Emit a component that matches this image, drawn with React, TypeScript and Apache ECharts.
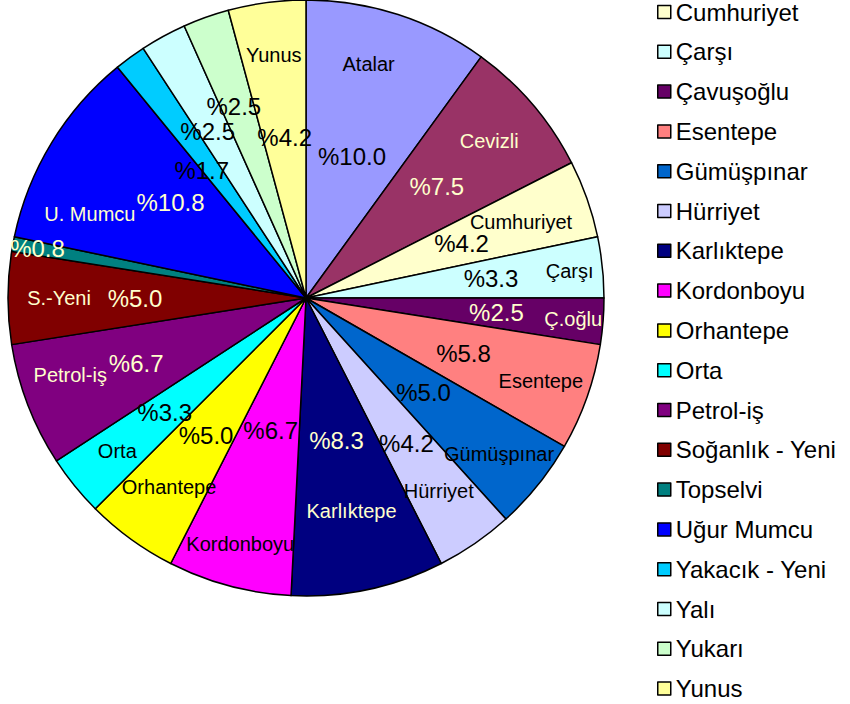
import React, { useEffect, useRef } from "react";
import * as echarts from "echarts";

// ---- data ----
const names = [
  "Atalar", "Cevizli", "Cumhuriyet", "Çarşı", "Çavuşoğlu", "Esentepe", "Gümüşpınar",
  "Hürriyet", "Karlıktepe", "Kordonboyu", "Orhantepe", "Orta", "Petrol-iş",
  "Soğanlık - Yeni", "Topselvi", "Uğur Mumcu", "Yakacık - Yeni", "Yalı", "Yukarı", "Yunus",
];
const sliceLabels = [
  "Atalar", "Cevizli", "Cumhuriyet", "Çarşı", "Ç.oğlu", "Esentepe", "Gümüşpınar",
  "Hürriyet", "Karlıktepe", "Kordonboyu", "Orhantepe", "Orta", "Petrol-iş",
  "S.-Yeni", "", "U. Mumcu", "", "", "", "Yunus",
];
const shares = [10.0, 7.5, 4.2, 3.3, 2.5, 5.8, 5.0, 4.2, 8.3, 6.7, 5.0, 3.3, 6.7, 5.0, 0.8, 10.8, 1.7, 2.5, 2.5, 4.2];
const legendNames = names.slice(2);
const outerPercentNames = ["Topselvi"];

// ---- styles ----
const colors = [
  "#9999FF", "#993366", "#FFFFCC", "#CCFFFF", "#660066", "#FF8080", "#0066CC",
  "#CCCCFF", "#000080", "#FF00FF", "#FFFF00", "#00FFFF", "#800080",
  "#800000", "#008080", "#0000FF", "#00CCFF", "#CCFFFF", "#CCFFCC", "#FFFF99",
];
const darkSlices = ["Cevizli", "Çavuşoğlu", "Karlıktepe", "Petrol-iş", "Soğanlık - Yeni", "Topselvi", "Uğur Mumcu"];
// radial distance (px) and angular shift (deg) of the labels, per slice
const pctLabelRadius = [149, 172, 165, 186, 191, 167, 151, 177, 146, 137, 170, 182, 182, 171, 273, 166, 165, 193, 205, 162];
const pctLabelShift = [0, 0, 0, 0, 0, 0, 0, 0, 0, 0, 0, 0, 0, 0, 0, 4, -3, -2, -1, 0];
const nameLabelRadius = [242, 241, 228, 265, 268, 249, 248, 234, 218, 255, 233, 243, 248, 247, 273, 232, 245, 245, 245, 245];
const nameLabelShift = [-3, 0, 0, 0, 0, 0, 0, 0, 0, 0, 0, 0, 3, 0, 0, -10, 0, 0, 0, 0];
const CREAM = "#FFFFCC";
const FONT = "'Liberation Sans', Arial, sans-serif";

export default function App() {
  const ref = useRef<HTMLDivElement>(null);
  useEffect(() => {
    document.body.style.margin = "0";
    const chart = echarts.init(ref.current!, null, { renderer: "svg" });
    const cx = 306;
    const cy = 298;
    const R = 298;
    const pct = (v: number) => "%" + v.toFixed(1);
    const txt = (n: string) => (darkSlices.includes(n) ? CREAM : "#000");
    const transparent = { color: "rgba(0,0,0,0)", borderWidth: 0 };

    const mainData = names.map((n, i) => ({
      name: n,
      value: shares[i],
      itemStyle: { color: colors[i] },
    }));
    const pctData = names.map((n, i) => ({
      name: n,
      value: shares[i],
      itemStyle: transparent,
      label: {
        show: !outerPercentNames.includes(n),
        formatter: pct(shares[i]),
        color: txt(n),
      },
    }));
    const nameData = names.map((n, i) => {
      const outer = outerPercentNames.includes(n);
      return {
        name: n,
        value: shares[i],
        itemStyle: transparent,
        label: {
          show: outer || sliceLabels[i] !== "",
          formatter: outer ? pct(shares[i]) : sliceLabels[i],
          color: txt(n),
          fontSize: outer ? 24 : 20,
        },
      };
    });

    const radialLayout = (radii: number[], shifts: number[]) => (p: any) => {
      const r = p.labelRect;
      const mx = r.x + r.width / 2 - cx;
      const my = r.y + r.height / 2 - cy;
      // screen angle (clockwise because y grows downwards)
      const a = Math.atan2(my, mx) + (shifts[p.dataIndex] * Math.PI) / 180;
      const d = radii[p.dataIndex];
      return {
        x: cx + Math.cos(a) * d,
        y: cy + Math.sin(a) * d,
        align: "center",
        verticalAlign: "middle",
      };
    };

    const common = {
      type: "pie",
      center: [cx, cy],
      startAngle: 90,
      clockwise: true,
      silent: true,
      avoidLabelOverlap: false,
      labelLine: { show: false },
      emphasis: { disabled: true },
    };

    chart.setOption({
      animation: false,
      legend: {
        orient: "vertical",
        left: 652,
        top: -5,
        height: 780,
        data: legendNames,
        icon: "rect",
        itemWidth: 13,
        itemHeight: 13,
        itemGap: 15.8,
        itemStyle: { borderColor: "#000", borderWidth: 1.5 },
        textStyle: { fontFamily: FONT, fontSize: 24, color: "#000", lineHeight: 24 },
        selectedMode: false,
      },
      series: [
        {
          ...common,
          name: "main",
          radius: [0, R],
          label: { show: false },
          itemStyle: { borderColor: "#000", borderWidth: 1.5 },
          data: mainData,
        },
        {
          ...common,
          name: "pct",
          radius: [42, R],
          label: { show: true, position: "inside", fontFamily: FONT, fontSize: 24 },
          labelLayout: radialLayout(pctLabelRadius, pctLabelShift),
          data: pctData,
        },
        {
          ...common,
          name: "names",
          radius: [192, R],
          label: { show: true, position: "inside", fontFamily: FONT, fontSize: 20 },
          labelLayout: radialLayout(nameLabelRadius, nameLabelShift),
          data: nameData,
        },
      ],
    });
    return () => chart.dispose();
  }, []);
  return <div ref={ref} style={{ width: 850, height: 704 }} />;
}
